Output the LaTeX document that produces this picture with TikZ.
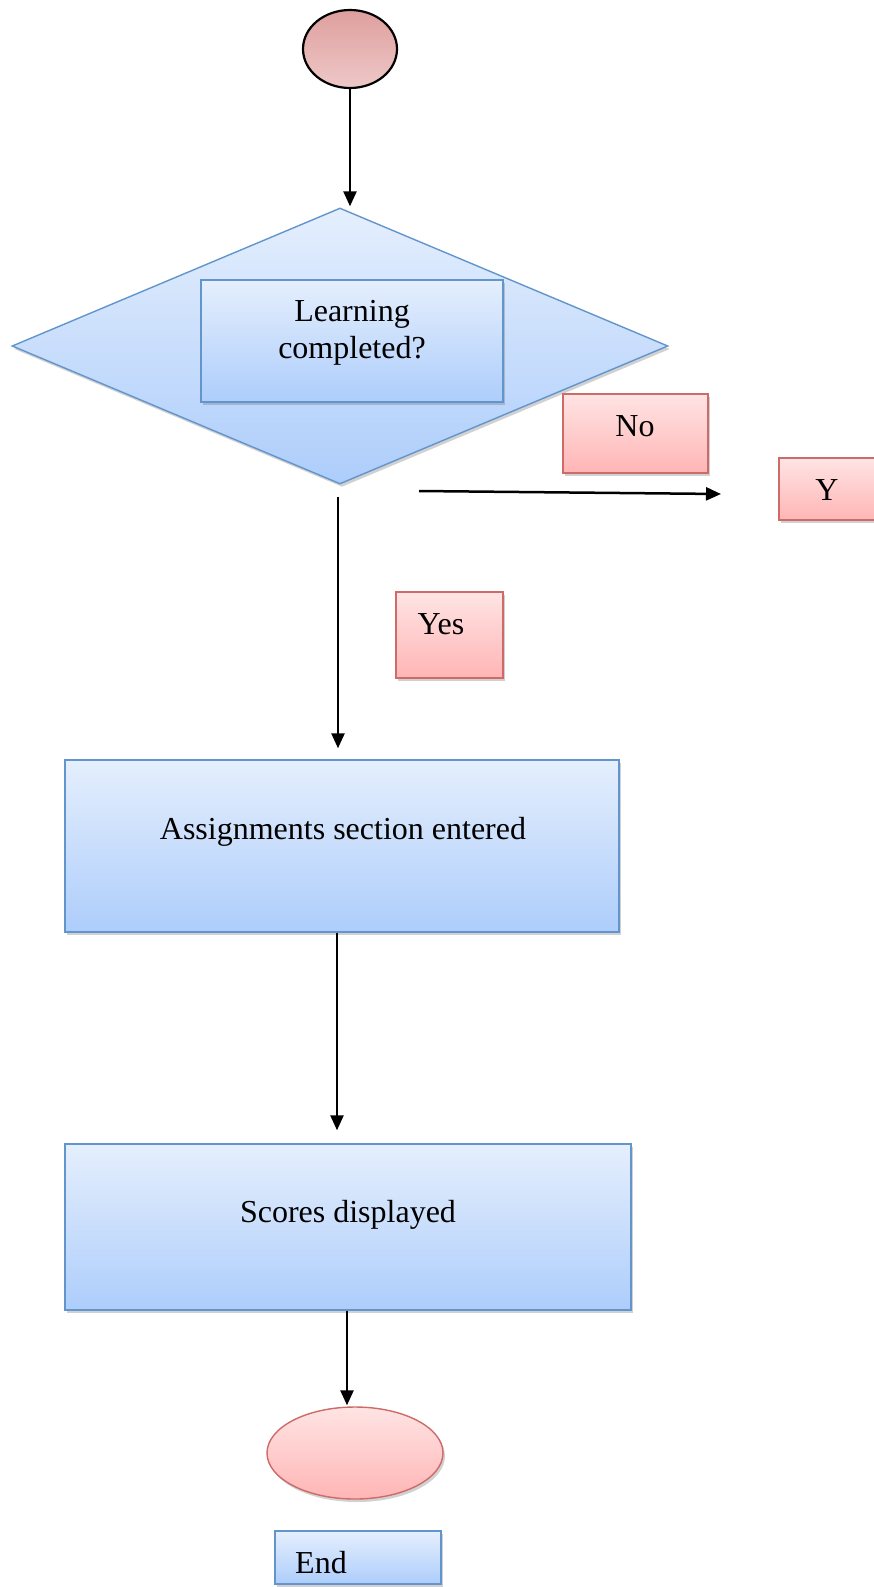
\documentclass[tikz,border=0pt]{standalone}
\usepackage{fontspec}
\setmainfont{Liberation Serif}
\usetikzlibrary{shapes.geometric,arrows.meta,shadows}
\definecolor{bluetop}{HTML}{E5EFFD}
\definecolor{bluebot}{HTML}{ADCDFB}
\definecolor{blueedge}{HTML}{6295CB}
\definecolor{pinktop}{HTML}{FFE4E4}
\definecolor{pinkbot}{HTML}{FFB5B5}
\definecolor{pinkedge}{HTML}{CD6B68}
\definecolor{starttop}{HTML}{DE9F9D}
\definecolor{startbot}{HTML}{EEC8C8}
\tikzset{
  shad/.style={drop shadow={shadow xshift=2pt,shadow yshift=-3pt,opacity=0.3,fill=black!60}},
  bluebox/.style={rectangle,draw=blueedge,line width=1.4pt,top color=bluetop,bottom color=bluebot,inner sep=0pt,shad},
  pinkbox/.style={rectangle,draw=pinkedge,line width=1.4pt,top color=pinktop,bottom color=pinkbot,inner sep=0pt,shad},
  txt/.style={font=\fontsize{32}{37}\selectfont,inner sep=0pt,align=center},
  arr/.style={draw=black,line width=2.5pt,-{Triangle[length=15pt,width=13pt]}}
}
\begin{document}
\begin{tikzpicture}[x=1pt,y=-1pt]
\useasboundingbox (0,0) rectangle (873,1587);
% start
\node[ellipse,draw=black,line width=2.2pt,top color=starttop,bottom color=startbot,minimum width=94pt,minimum height=78pt,inner sep=0pt] (start) at (350,49) {};
% decision diamond
\node[diamond,draw=blueedge,line width=1.4pt,top color=bluetop,bottom color=bluebot,minimum width=656pt,minimum height=276pt,inner sep=0pt,shad] (dia) at (340,346) {};
\node[bluebox,minimum width=302pt,minimum height=122pt] (learn) at (352,341) {};
\node[txt] (learntxt) at (352,333) {Learning\\completed?};
% No / Y / Yes
\node[pinkbox,minimum width=145pt,minimum height=79pt] (nobox) at (635.5,433.5) {};
\node[txt] (notxt) at (635,426) {No};
\node[pinkbox,minimum width=97pt,minimum height=62pt] (ybox) at (827.5,489) {};
\node[txt] (ytxt) at (827,490) {Y};
\node[pinkbox,minimum width=107pt,minimum height=86pt] (yesbox) at (449.5,635) {};
\node[txt] (yestxt) at (441,624) {Yes};
% process boxes
\node[bluebox,minimum width=554pt,minimum height=172pt] (assign) at (342,846) {};
\node[txt] (assigntxt) at (343,832) {Assignments section entered};
\node[bluebox,minimum width=566pt,minimum height=166pt] (scores) at (348,1227) {};
\node[txt] (scorestxt) at (348,1215) {Scores displayed};
% end
\node[ellipse,draw=pinkedge,line width=1.4pt,top color=pinktop,bottom color=pinkbot,minimum width=176pt,minimum height=92pt,inner sep=0pt,shad] (endell) at (355,1453) {};
\node[bluebox,minimum width=166pt,minimum height=53pt] (endbox) at (358,1557.5) {};
\node[txt,anchor=west] (endtxt) at (295,1563) {End};
% connectors
\draw[arr] (start.south) -- ([yshift=1pt]start.south |- dia.north);
\draw[arr,shorten <=12pt,shorten >=11pt] ([xshift=-2pt]dia.south) -- ([xshift=-2pt]dia.south |- assign.north);
\draw[arr,shorten >=13pt] ([xshift=-5pt]assign.south) -- ([xshift=-5pt]assign.south |- scores.north);
\draw[arr,shorten >=1pt] ([xshift=-1pt]scores.south) -- ([xshift=-1pt]scores.south |- endell.north);
\coordinate (nofrom) at (419,491);
\coordinate (noto) at (721,494);
\draw[arr] (nofrom) -- (noto);
\end{tikzpicture}
\end{document}
